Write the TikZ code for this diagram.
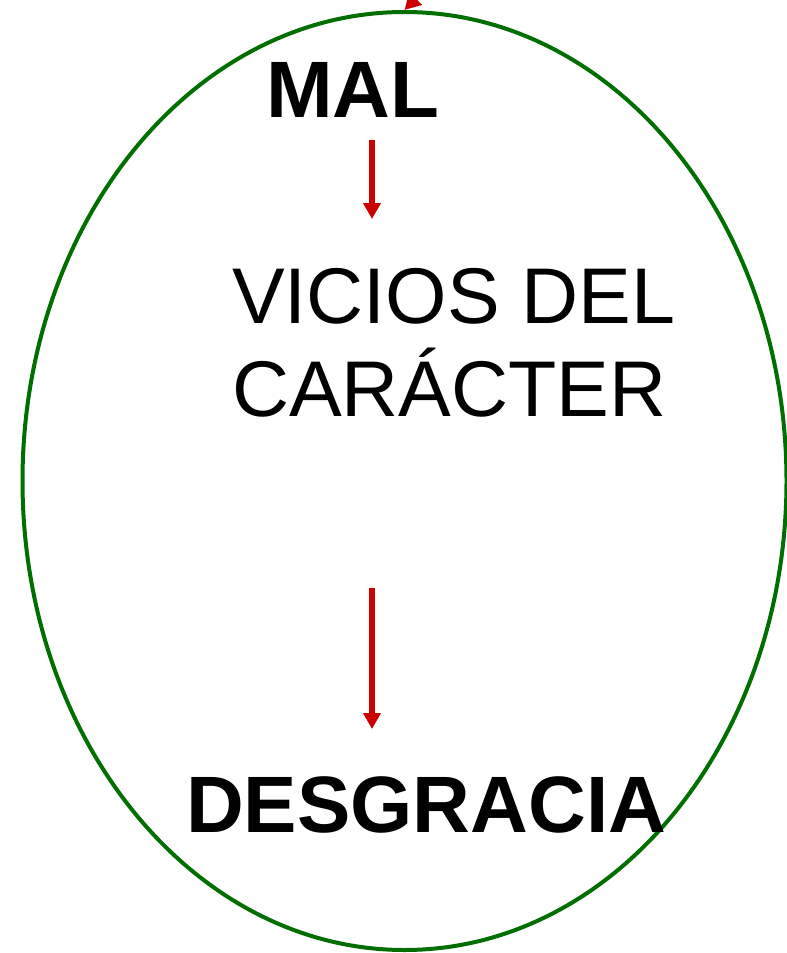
\documentclass[tikz,border=0pt]{standalone}
\usepackage{fontspec}
\setmainfont{Liberation Sans}
\usetikzlibrary{arrows.meta,shapes.geometric}
\definecolor{ellgreen}{RGB}{0,110,0}
\definecolor{arrred}{RGB}{204,0,0}
\tikzset{
  redarrow/.style={draw=arrred, line width=5.5pt, -{Triangle[width=17pt,length=16pt]}},
  bigtxt/.style={inner sep=0pt, anchor=base west, font=\fontsize{80}{93}\selectfont},
}
\begin{document}
\begin{tikzpicture}[x=1pt,y=-1pt]
\useasboundingbox (0,0) rectangle (787,953);
\begin{scope}
\clip (0,0) rectangle (787,953);
\node[draw=ellgreen, line width=4pt, ellipse, minimum width=764pt, minimum height=938pt, inner sep=0pt] (ell) at (404.5,481) {};
\coordinate (topstart) at (428,-14);
\draw[redarrow] (topstart) -- (ell.north);
\end{scope}
\node[bigtxt, font=\fontsize{80}{93}\selectfont\bfseries] (mal) at (266,117) {MAL};
\node[bigtxt, font=\fontsize{79}{93}\selectfont, align=left] (vic) at (232,416) {VICIOS DEL\\CARÁCTER};
\node[bigtxt, font=\fontsize{80}{93}\selectfont\bfseries] (des) at (186,832) {DESGRACIA};
\coordinate (a1s) at (372,140);
\coordinate (a1e) at (372,219);
\coordinate (a2s) at (372,588);
\coordinate (a2e) at (372,729);
\draw[redarrow] (a1s) -- (a1e);
\draw[redarrow] (a2s) -- (a2e);
\end{tikzpicture}
\end{document}
